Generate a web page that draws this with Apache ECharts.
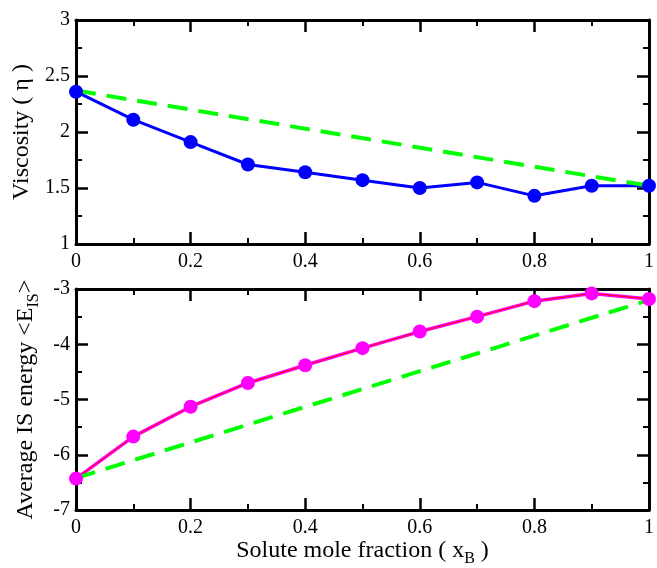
<!DOCTYPE html>
<html>
<head>
<meta charset="utf-8">
<script src="https://cdn.jsdelivr.net/npm/echarts@6/dist/echarts.min.js"></script>
<style>html,body{margin:0;padding:0;background:#fff}#c{width:657px;height:568px}</style>
</head>
<body>
<div id="c"></div>
<script>
const xValues = [0, 0.1, 0.2, 0.3, 0.4, 0.5, 0.6, 0.7, 0.8, 0.9, 1.0];
const viscosity = [2.36, 2.11, 1.91, 1.71, 1.64, 1.57, 1.50, 1.55, 1.43, 1.52, 1.52];
const viscosityIdeal = [[0, 2.37], [1, 1.52]];
const isEnergy = [-6.43, -5.67, -5.13, -4.70, -4.38, -4.07, -3.77, -3.50, -3.22, -3.08, -3.18];
const isEnergyIdeal = [[0, -6.42], [1, -3.2]];
const xTicks = [0, 0.2, 0.4, 0.6, 0.8, 1];

const FONT = '"Liberation Serif", "DejaVu Serif", serif';
const axisLine = {show: true, onZero: false, lineStyle: {color: '#000', width: 3}};
const axisTick = {show: true, inside: true, length: 12, lineStyle: {color: '#000', width: 2.5}};
const minorTick = {show: true, splitNumber: 2, length: 6, lineStyle: {color: '#000', width: 2}};
const labelStyle = {color: '#000', fontFamily: FONT, fontSize: 20};
const nameRich = {
  n: {fontFamily: FONT, fontSize: 24, color: '#000', lineHeight: 26, verticalAlign: 'top'},
  s: {fontFamily: FONT, fontSize: 16, color: '#000', lineHeight: 16, padding: [12, 0, 0, 0], verticalAlign: 'top'}
};

function xAx(grid, pos, labels, name) {
  return {
    type: 'value', gridIndex: grid, position: pos, min: 0, max: 1, interval: 0.2,
    axisLine, axisTick, minorTick, splitLine: {show: false}, minorSplitLine: {show: false},
    axisLabel: Object.assign({show: labels, margin: 8, formatter: v => String(+v.toFixed(1))}, labelStyle),
    name: name || '', nameLocation: 'middle', nameGap: 30,
    nameTextStyle: {rich: nameRich}
  };
}
function yAx(grid, pos, labels, min, max, interval, name, gap) {
  return {
    type: 'value', gridIndex: grid, position: pos, min, max, interval,
    axisLine, axisTick, minorTick, splitLine: {show: false}, minorSplitLine: {show: false},
    axisLabel: Object.assign({show: labels, margin: 6}, labelStyle),
    name: name || '', nameLocation: 'middle', nameGap: gap || 0, nameRotate: 90,
    nameTextStyle: {rich: nameRich}
  };
}

const chart = echarts.init(document.getElementById('c'), null, {renderer: 'canvas'});
chart.setOption({
  backgroundColor: '#fff',
  animation: false,
  grid: [
    {left: 76, right: 8, top: 20, height: 224},
    {left: 76, right: 5, top: 289, height: 223}
  ],
  xAxis: [
    xAx(0, 'bottom', true),
    xAx(0, 'top', false),
    Object.assign(xAx(1, 'bottom', true, '{n|Solute mole fraction ( x}{s|B}{n| )}'), {nameGap: 28}),
    xAx(1, 'top', false)
  ],
  yAxis: [
    yAx(0, 'left', true, 1, 3, 0.5, '{n|Viscosity ( η )}', 38),
    yAx(0, 'right', false, 1, 3, 0.5),
    yAx(1, 'left', true, -7, -3, 1, '{n|Average IS energy <E}{s|IS}{n|>}', 36),
    yAx(1, 'right', false, -7, -3, 1)
  ],
  series: [
    {type: 'line', xAxisIndex: 0, yAxisIndex: 0, data: xValues.map((x, i) => [x, viscosity[i]]),
     symbol: 'circle', symbolSize: 14, itemStyle: {color: '#0000ff'}, lineStyle: {color: '#0000ff', width: 3}},
    {type: 'line', xAxisIndex: 0, yAxisIndex: 0, data: viscosityIdeal, symbol: 'none',
     lineStyle: {color: '#00ff00', width: 4, type: [20, 11]}},
    {type: 'line', xAxisIndex: 2, yAxisIndex: 2, data: xValues.map((x, i) => [x, isEnergy[i]]),
     symbol: 'circle', symbolSize: 14, itemStyle: {color: '#ff00ff'}, lineStyle: {color: '#ff00ff', width: 3.5}},
    {type: 'line', xAxisIndex: 2, yAxisIndex: 2, data: xValues.map((x, i) => [x, isEnergy[i]]),
     symbol: 'none', lineStyle: {color: '#ff0000', width: 1}},
    {type: 'line', xAxisIndex: 2, yAxisIndex: 2, data: isEnergyIdeal, symbol: 'none',
     lineStyle: {color: '#00ff00', width: 4, type: [20, 11]}}
  ]
});
</script>
</body>
</html>
